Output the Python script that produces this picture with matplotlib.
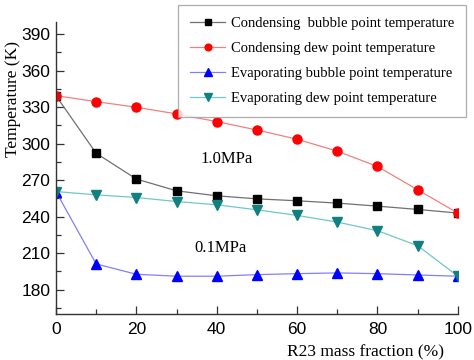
import matplotlib
matplotlib.use("Agg")
import matplotlib.pyplot as plt
from matplotlib.ticker import MultipleLocator

x = [0, 10, 20, 30, 40, 50, 60, 70, 80, 90, 100]
cond_bubble = [339.4, 292.1, 270.9, 261.2, 257.1, 254.6, 253.0, 251.1, 248.6, 245.9, 242.9]
cond_dew = [339.4, 334.5, 329.9, 324.4, 318.1, 311.2, 303.6, 293.8, 281.2, 262.0, 242.9]
evap_bubble = [260.6, 201.1, 192.6, 191.0, 191.0, 192.3, 193.1, 193.7, 193.1, 192.0, 191.0]
evap_dew = [260.6, 257.9, 255.7, 252.4, 249.7, 245.6, 241.0, 235.5, 228.4, 216.1, 191.0]
labels = ["Condensing  bubble point temperature",
          "Condensing dew point temperature",
          "Evaporating bubble point temperature",
          "Evaporating dew point temperature"]

fig = plt.figure(figsize=(4.74, 3.6), dpi=100)
ax = fig.add_axes([0.118, 0.128, 0.848, 0.811])

sans = "Liberation Sans"
serif = "Liberation Serif"

h1, = ax.plot(x, cond_bubble, color="#707070", lw=0.9, marker="s", ms=6,
              mfc="black", mec="black", label=labels[0])
h2, = ax.plot(x, cond_dew, color="#f08080", lw=0.9, marker="o", ms=6.5,
              mfc="#ff0000", mec="#ff0000", label=labels[1])
h3, = ax.plot(x, evap_bubble, color="#8080ff", lw=0.9, marker="^", ms=7,
              mfc="#0000ff", mec="#0000ff", label=labels[2])
h4, = ax.plot(x, evap_dew, color="#70c8c8", lw=0.9, marker="v", ms=7,
              mfc="#108080", mec="#108080", label=labels[3])

ax.set_xlim(0, 100)
ax.set_ylim(160, 400)
ax.xaxis.set_major_locator(MultipleLocator(20))
ax.xaxis.set_minor_locator(MultipleLocator(10))
ax.yaxis.set_minor_locator(MultipleLocator(15))
ax.set_yticks([180, 210, 240, 270, 300, 330, 360, 390])
ax.tick_params(which="both", direction="in", color="#333333", width=0.9)
ax.tick_params(which="major", length=6)
ax.tick_params(which="minor", length=3.5)
for lab in ax.get_xticklabels() + ax.get_yticklabels():
    lab.set_fontfamily(sans)
    lab.set_fontsize(12.5)
ax.tick_params(axis="x", pad=6)
ax.tick_params(axis="y", pad=4)

ax.spines["top"].set_visible(False)
ax.spines["right"].set_visible(False)
for s in ("left", "bottom"):
    ax.spines[s].set_color("#333333")
    ax.spines[s].set_linewidth(1.0)

ax.set_xlabel("R23 mass fraction (%)", family=serif, fontsize=12.5)
ax.xaxis.set_label_coords(0.77, -0.105)
ax.set_ylabel("Temperature (K)", family=serif, fontsize=12.5)
ax.yaxis.set_label_coords(-0.088, 0.735)

ax.text(36, 287, "1.0MPa", family=serif, fontsize=12, ha="left", va="center")
ax.text(34.5, 214, "0.1MPa", family=serif, fontsize=12, ha="left", va="center")

leg = fig.legend(handles=[h1, h2, h3, h4], loc="upper right",
                 bbox_to_anchor=(0.998, 1.005), prop={"family": serif, "size": 10.5},
                 frameon=True, fancybox=False, edgecolor="#999999",
                 handlelength=2.4, handletextpad=0.4, labelspacing=0.8,
                 borderpad=0.8, markerscale=0.75)
leg.get_frame().set_linewidth(0.9)

fig.savefig("out.png", dpi=100)
